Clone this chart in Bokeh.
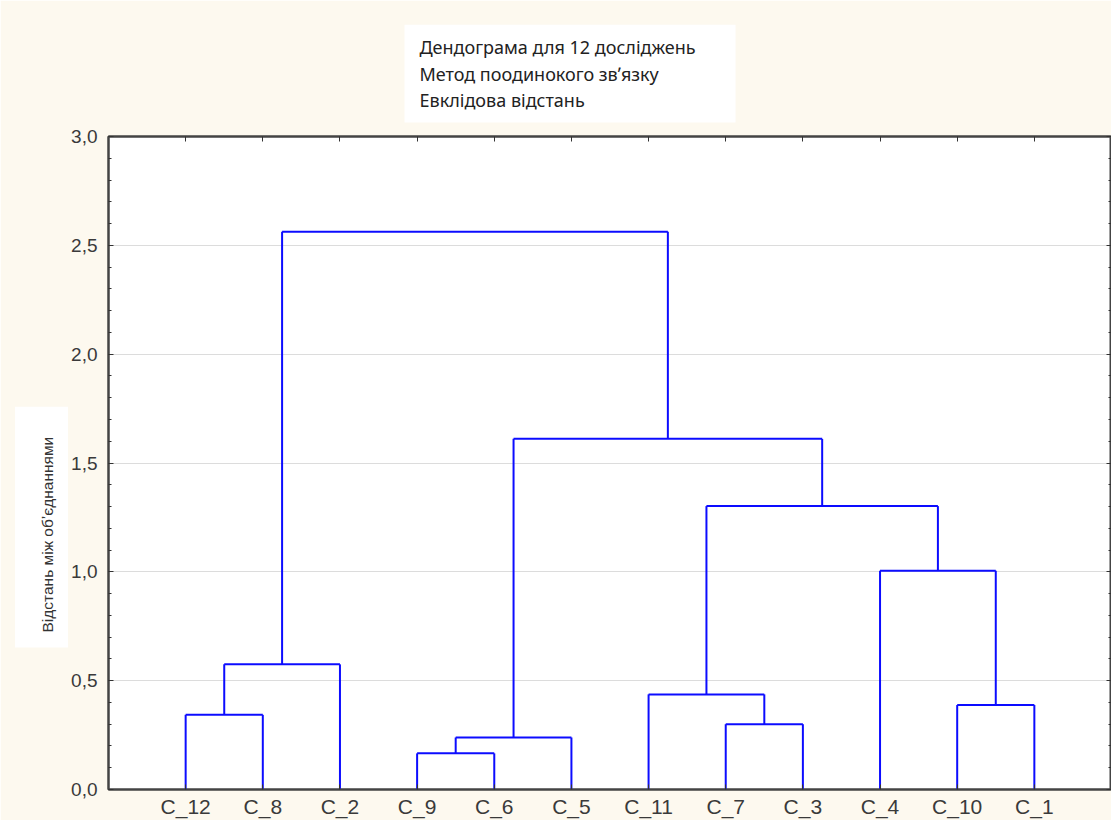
from bokeh.plotting import figure
from bokeh.models import LinearAxis, FixedTicker, Range1d, Title
from bokeh.embed import file_html
from bokeh.resources import INLINE

# ---- data ----
leaves = ["C_12", "C_8", "C_2", "C_9", "C_6", "C_5", "C_11", "C_7", "C_3", "C_4", "C_10", "C_1"]
# merges: child ids (0..11 leaves in order, 12.. merged clusters in order), merge height
merge_left = [0, 3, 13, 7, 6, 10, 12, 9, 16, 14, 18]
merge_right = [1, 4, 5, 8, 15, 11, 2, 17, 19, 20, 21]
merge_height = [0.343, 0.166, 0.239, 0.30, 0.437, 0.388, 0.575, 1.005, 1.302, 1.611, 2.562]
y_ticks = [0.0, 0.5, 1.0, 1.5, 2.0, 2.5, 3.0]
y_tick_labels = ["0,0", "0,5", "1,0", "1,5", "2,0", "2,5", "3,0"]
title_lines = ["Дендограма для 12 досліджень", "Метод поодинокого зв\u02bcязку", "Евклідова відстань"]
y_label = "Відстань між об\u02bcєднаннями"

# ---- build dendrogram segments ----
pos = {i: i + 1 for i in range(len(leaves))}
hgt = {i: 0.0 for i in range(len(leaves))}
x0, y0, x1, y1 = [], [], [], []
for k, (a, b, h) in enumerate(zip(merge_left, merge_right, merge_height)):
    xa, xb = pos[a], pos[b]
    x0 += [xa, xb]; y0 += [hgt[a], hgt[b]]; x1 += [xa, xb]; y1 += [h, h]
    x0.append(xa); y0.append(h); x1.append(xb); y1.append(h)
    nid = len(leaves) + k
    pos[nid] = (xa + xb) / 2
    hgt[nid] = h

BG = "#fdf9ef"
p = figure(width=1111, height=820, output_backend="svg", toolbar_location=None,
           x_range=Range1d(0, 13), y_range=Range1d(0, 3),
           min_border_left=108, min_border_top=136, min_border_right=0, min_border_bottom=30,
           background_fill_color="white", border_fill_color=BG)
p.outline_line_color = "#444444"
p.outline_line_width = 2

p.segment(x0=x0, y0=y0, x1=x1, y1=y1, line_color="#0c0cff", line_width=2)

minor = [i / 10 for i in range(31)]
# axes
p.xaxis.ticker = FixedTicker(ticks=list(range(1, len(leaves) + 1)))
p.xaxis.major_label_overrides = {i + 1: lab for i, lab in enumerate(leaves)}
p.yaxis.ticker = FixedTicker(ticks=y_ticks, minor_ticks=minor)
p.yaxis.major_label_overrides = {t: l for t, l in zip(y_ticks, y_tick_labels)}
for ax in (p.xaxis[0], p.yaxis[0]):
    ax.major_label_text_font = "Liberation Sans"
    ax.major_label_text_color = "#3a3a3a"
    ax.axis_line_color = "#444444"
    ax.axis_line_width = 2
    ax.major_tick_in = 5
    ax.major_tick_out = 0
    ax.minor_tick_in = 3
    ax.minor_tick_out = 0
    ax.major_tick_line_color = "#333333"
    ax.minor_tick_line_color = "#333333"
p.xaxis.major_label_text_font_size = "21px"
p.yaxis.major_label_text_font_size = "19px"
p.xaxis.minor_tick_line_color = None
p.xaxis.major_label_standoff = 5
p.yaxis.major_label_standoff = 11

top = LinearAxis(ticker=FixedTicker(ticks=list(range(1, len(leaves) + 1))),
                 major_label_text_font_size="0px", major_label_text_color=None,
                 major_label_standoff=0, major_tick_in=5, major_tick_out=0,
                 minor_tick_line_color=None, axis_line_color="#444444", axis_line_width=2,
                 major_tick_line_color="#333333")
right = LinearAxis(ticker=FixedTicker(ticks=y_ticks, minor_ticks=minor),
                   major_label_text_font_size="0px", major_label_text_color=None,
                   major_label_standoff=0, major_tick_in=5, major_tick_out=0,
                   minor_tick_in=3, minor_tick_out=0, axis_line_color="#444444", axis_line_width=2,
                   major_tick_line_color="#333333", minor_tick_line_color="#333333")
p.add_layout(top, "above")
p.add_layout(right, "right")

p.xgrid.grid_line_color = None
p.ygrid.grid_line_color = "#dcdcdc"
p.ygrid.grid_line_width = 1.2

# title block
p.title = Title(text="\n".join(title_lines), text_font="Noto Sans", text_font_size="18px",
                text_font_style="normal", text_color="#222222", text_line_height=1.12,
                align="left", offset=296, vertical_align="bottom", standoff=28,
                background_fill_color="white",
                padding=dict(left=15, right=40, top=10, bottom=10))
# y label as a left-side title with white box
p.add_layout(Title(text=y_label, text_font="Liberation Sans", text_font_size="15.5px",
                   text_font_style="normal", text_color="#333333", align="left", offset=142,
                   standoff=1, background_fill_color="white",
                   padding=dict(left=15, right=30, top=24, bottom=12)), "left")

open("out.html", "w").write(file_html(p, INLINE))
